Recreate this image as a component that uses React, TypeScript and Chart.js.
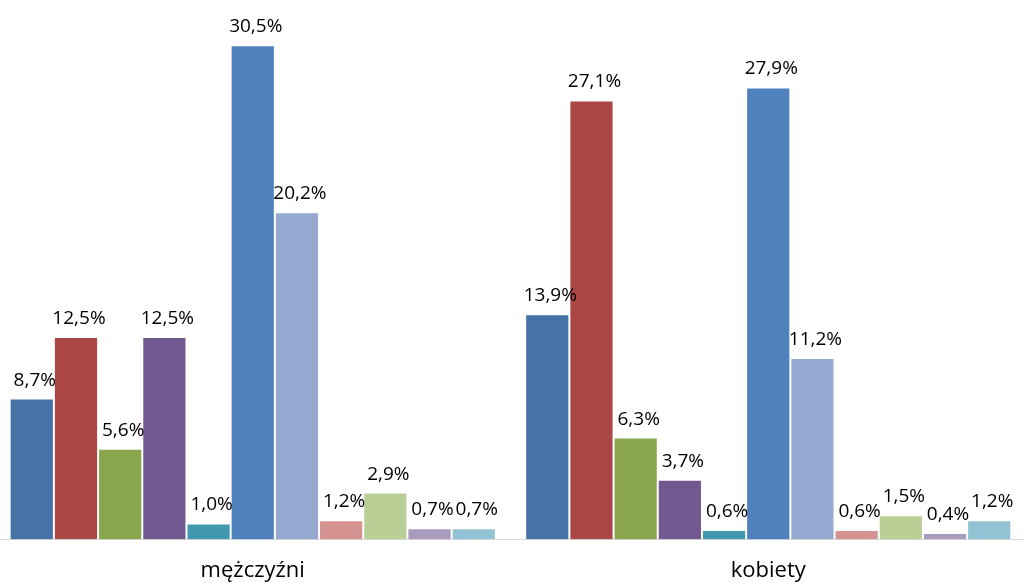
import React, { useEffect, useRef } from "react";
import { Chart, registerables } from "chart.js";

Chart.register(...registerables);

const categories = ["mężczyźni", "kobiety"];
const seriesNames = [
  "Seria 1", "Seria 2", "Seria 3", "Seria 4", "Seria 5", "Seria 6",
  "Seria 7", "Seria 8", "Seria 9", "Seria 10", "Seria 11",
];
const menValues = [8.7, 12.5, 5.6, 12.5, 1.0, 30.5, 20.2, 1.2, 2.9, 0.7, 0.7];
const womenValues = [13.9, 27.1, 6.3, 3.7, 0.6, 27.9, 11.2, 0.6, 1.5, 0.4, 1.2];
const seriesColors = [
  "#4572A7", "#AA4643", "#89A54E", "#71588F", "#4198AF", "#4F81BD",
  "#95A9D1", "#D49290", "#B9CF96", "#A99BBD", "#92C3D4",
];

const FONT = "'Open Sans', 'Liberation Sans', sans-serif";

const fmt = (v: number) => v.toFixed(1).replace(".", ",") + "%";

const labelPlugin = {
  id: "valueLabels",
  afterDatasetsDraw(chart: any) {
    const ctx = chart.ctx;
    ctx.save();
    ctx.font = `19px ${FONT}`;
    ctx.fillStyle = "#000000";
    ctx.textAlign = "center";
    ctx.textBaseline = "alphabetic";
    chart.data.datasets.forEach((ds: any, di: number) => {
      const meta = chart.getDatasetMeta(di);
      meta.data.forEach((bar: any, i: number) => {
        const v = ds.data[i] as number;
        ctx.fillText(fmt(v), bar.x + 3, bar.y - 13);
      });
    });
    ctx.restore();
  },
};

export default function App() {
  const ref = useRef<HTMLCanvasElement | null>(null);
  useEffect(() => {
    if (!ref.current) return;
    const chart = new Chart(ref.current, {
      type: "bar",
      data: {
        labels: categories,
        datasets: seriesNames.map((name, i) => ({
          label: name,
          data: [menValues[i], womenValues[i]],
          backgroundColor: seriesColors[i],
          borderColor: "rgba(255,255,255,0.3)",
          borderWidth: 1,
          categoryPercentage: 0.943,
          barPercentage: 1,
        })),
      },
      options: {
        animation: false,
        responsive: false,
        maintainAspectRatio: false,
        layout: { padding: { top: 21, left: 0, right: 0, bottom: 0 } },
        plugins: {
          legend: { display: false },
          tooltip: { enabled: false },
        },
        scales: {
          x: {
            grid: { display: false, drawTicks: false },
            border: { display: true, color: "#D9D9D9", width: 1 },
            ticks: {
              color: "#000000",
              font: { family: FONT, size: 22 },
              padding: 18,
            },
          },
          y: {
            display: false,
            min: 0,
            max: 32,
          },
        },
      },
      plugins: [labelPlugin],
    });
    return () => chart.destroy();
  }, []);
  return (
    <div style={{ position: "fixed", left: 0, top: 0, width: 1024, height: 583, overflow: "hidden", background: "#fff" }}>
      <div style={{ position: "absolute", left: -5, top: 0, width: 1031, height: 602 }}>
        <canvas ref={ref} width={1031} height={602} style={{ display: "block" }} />
      </div>
    </div>
  );
}
